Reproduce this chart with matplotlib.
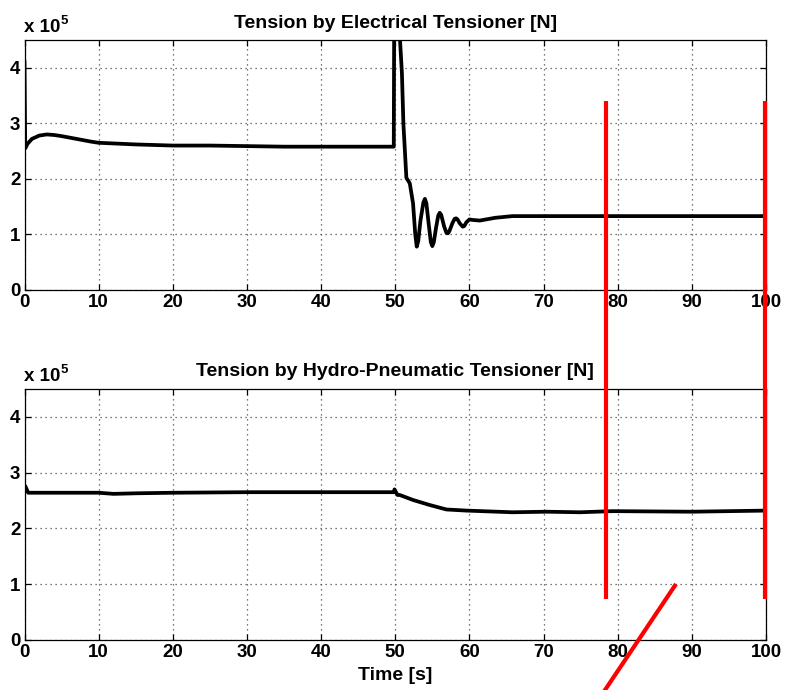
import matplotlib
matplotlib.use("Agg")
import matplotlib.pyplot as plt
from matplotlib.lines import Line2D

plt.rcParams['font.family'] = ['Liberation Sans', 'DejaVu Sans']
plt.rcParams['font.weight'] = 'bold'

# Tension by electrical tensioner (x 1e5 N)
t_elec = [0, 0.1, 0.4, 1, 2, 3, 4, 5, 7, 9, 10, 15, 20, 25, 30, 35, 40, 45, 49.8,
          49.85, 50.6, 50.9, 51.1, 51.5, 51.96, 52.4, 52.7, 52.9, 53.1, 53.4,
          53.8, 54.0, 54.2, 54.5, 54.8, 55.0, 55.2, 55.5, 55.8, 56.0, 56.2,
          56.6, 56.9, 57.1, 57.3, 57.7, 58.0, 58.2, 58.4, 58.7, 59.1, 59.3,
          59.6, 60.0, 60.5, 61.4, 63.5, 65.8, 70, 75, 80, 90, 100]
f_elec = [4.1, 2.55, 2.63, 2.72, 2.78, 2.8, 2.79, 2.77, 2.72, 2.67, 2.65, 2.62,
          2.6, 2.6, 2.59, 2.58, 2.58, 2.58, 2.58,
          4.6, 4.6, 3.9, 2.99, 2.02, 1.92, 1.56, 1.0, 0.78, 0.88, 1.25,
          1.58, 1.64, 1.56, 1.2, 0.86, 0.79, 0.86, 1.12, 1.34, 1.39, 1.35,
          1.14, 1.03, 1.02, 1.06, 1.2, 1.28, 1.29, 1.27, 1.2, 1.14, 1.15,
          1.22, 1.27, 1.26, 1.25, 1.3, 1.33, 1.33, 1.33, 1.33, 1.33, 1.33]

# Tension by hydro-pneumatic tensioner (x 1e5 N)
t_hydro = [0, 0.1, 0.5, 5, 10, 12, 15, 20, 30, 40, 45, 49.8, 49.9, 50.3, 50.6,
           52.4, 54.65, 56.9, 59.6, 65.8, 70.4, 74.9, 79.3, 90, 100]
f_hydro = [2.7, 2.76, 2.64, 2.64, 2.64, 2.62, 2.63, 2.64, 2.65, 2.65, 2.65, 2.65,
           2.7, 2.6, 2.6, 2.51, 2.42, 2.34, 2.32, 2.29, 2.30, 2.29, 2.31, 2.30, 2.32]

titles = ['Tension by Electrical Tensioner [N]',
          'Tension by Hydro-Pneumatic Tensioner [N]']
x_ticks = list(range(0, 101, 10))
y_ticks = [0, 1, 2, 3, 4]

fig = plt.figure(figsize=(7.88, 6.90), dpi=100)
W, H = 788, 690
ax_top = fig.add_axes([24.5 / W, 1 - 290 / H, (766 - 24.5) / W, 250 / H])
ax_bot = fig.add_axes([24.5 / W, 1 - 640 / H, (766 - 24.5) / W, 251 / H])

for ax, t, f, title in [(ax_top, t_elec, f_elec, titles[0]),
                        (ax_bot, t_hydro, f_hydro, titles[1])]:
    ax.plot(t, f, color='black', lw=2.7, solid_joinstyle='round')
    ax.set_xlim(0, 100)
    ax.set_ylim(0, 4.5)
    ax.set_xticks(x_ticks)
    ax.set_yticks(y_ticks)
    ax.tick_params(direction='in', length=4, width=0.9, top=True, right=True,
                   labelsize=13.5, pad=3)
    for lab in ax.get_xticklabels() + ax.get_yticklabels():
        lab.set_fontweight('bold')
    ax.grid(True, color='0.3', linestyle=(0, (1, 3)), lw=0.9)
    for s in ax.spines.values():
        s.set_linewidth(0.9)
    ax.set_title(title, fontsize=14, fontweight='bold', pad=9)
    base = ax.annotate('x 10', xy=(0, 1), xycoords='axes fraction',
                       xytext=(-1, 8), textcoords='offset pixels',
                       ha='left', va='baseline', fontsize=13.5, fontweight='bold')
    ax.annotate('5', xy=(1, 1), xycoords=base, xytext=(1, 4),
                textcoords='offset pixels', ha='left', va='top',
                fontsize=9.5, fontweight='bold')

ax_bot.set_xlabel('Time [s]', fontsize=14, fontweight='bold', labelpad=4)

# red marker strokes over the figure (pixel coordinates)
red_strokes = [((606, 101), (606, 599)),
               ((765, 101), (765, 599)),
               ((676, 584), (603, 693))]
for (x0, y0), (x1, y1) in red_strokes:
    fig.add_artist(Line2D([x0 / W, x1 / W], [1 - y0 / H, 1 - y1 / H],
                          transform=fig.transFigure, color='#ff0000', lw=3,
                          solid_capstyle='butt'))

fig.savefig('out.png', dpi=100)
